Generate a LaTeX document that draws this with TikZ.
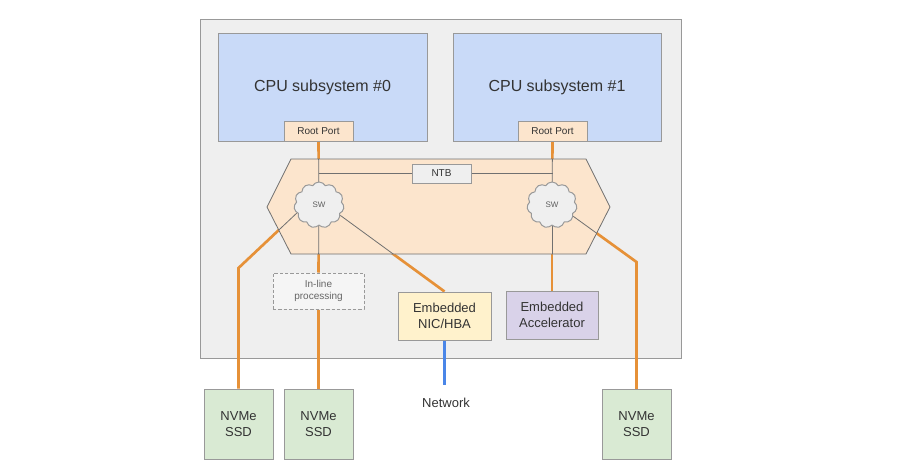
\documentclass[tikz,border=0pt]{standalone}
\usepackage{fontspec}
\setmainfont{Liberation Sans}
\usetikzlibrary{shapes.symbols}
\definecolor{bggray}{HTML}{EFEFEF}
\definecolor{bordergray}{HTML}{999999}
\definecolor{cpublue}{HTML}{C9DAF8}
\definecolor{peach}{HTML}{FCE5CD}
\definecolor{orangeline}{HTML}{E69138}
\definecolor{blueline}{HTML}{4A86E8}
\definecolor{nicyellow}{HTML}{FFF2CC}
\definecolor{accpurple}{HTML}{D9D2E9}
\definecolor{ssdgreen}{HTML}{D9EAD3}
\definecolor{txt}{HTML}{333333}
\pgfdeclarelayer{bg}
\pgfdeclarelayer{orangel}
\pgfdeclarelayer{hexl}
\pgfdeclarelayer{grayl}
\pgfsetlayers{bg,orangel,hexl,grayl,main}
\tikzset{
  boxstyle/.style={draw=bordergray, line width=0.75pt, inner sep=1pt, align=center, text=txt},
  cpubox/.style={boxstyle, fill=cpublue, font=\fontsize{12}{14}\selectfont},
  portbox/.style={boxstyle, fill=peach, font=\fontsize{7.5}{9}\selectfont, minimum width=51.75pt, minimum height=15pt},
  ssdbox/.style={boxstyle, fill=ssdgreen, font=\fontsize{9.75}{12}\selectfont, minimum width=51.75pt, minimum height=52.5pt},
  devbox/.style={boxstyle, font=\fontsize{9.75}{12}\selectfont, minimum height=36pt},
  swcloud/.style={cloud, cloud puffs=11, cloud puff arc=120, cloud ignores aspect, draw=bordergray, line width=0.75pt, fill=bggray, minimum width=37.5pt, minimum height=34.5pt, inner sep=0pt, text=txt!80, font=\fontsize{6}{7}\selectfont},
  oline/.style={draw=orangeline, line width=2pt},
  gline/.style={draw=txt!70, line width=0.6pt},
}
\begin{document}
\begin{tikzpicture}[x=0.75pt,y=-0.75pt]
\useasboundingbox (0,0) rectangle (902,468);
% outer box
\begin{pgfonlayer}{bg}
\draw[draw=bordergray, fill=bggray, line width=0.75pt] (200,19) rectangle (681,358);
\end{pgfonlayer}
% hexagon
\begin{pgfonlayer}{hexl}
\draw[draw=txt!70, fill=peach, line width=0.6pt] (267,207) -- (291,159) -- (586,159) -- (610,207) -- (586,254) -- (291,254) -- cycle;
\end{pgfonlayer}
% nodes
\node[cpubox, minimum width=156.75pt, minimum height=81pt] (cpu0) at (322.5,87) {CPU subsystem \#0};
\node[cpubox, minimum width=156pt, minimum height=81pt] (cpu1) at (557,87) {CPU subsystem \#1};
\node[portbox] (root0) at (318.5,131) {Root Port};
\node[portbox] (root1) at (552.5,131) {Root Port};
\node[boxstyle, fill=bggray, font=\fontsize{7.5}{9}\selectfont, minimum width=44.25pt, minimum height=14.25pt] (ntb) at (441.5,173.5) {NTB};
\node[swcloud] (sw0) at (319,205) {SW};
\node[swcloud] (sw1) at (552,205) {SW};
\node[boxstyle, dashed, dash pattern=on 2.5pt off 1.5pt, fill=bggray!60, text=txt!75, font=\fontsize{7.5}{9}\selectfont, minimum width=68.25pt, minimum height=27pt] (inline) at (318.5,291) {In-line\\processing};
\node[devbox, fill=nicyellow, minimum width=69.75pt] (nic) at (444.5,316) {Embedded\\NIC/HBA};
\node[devbox, fill=accpurple, minimum width=69pt] (acc) at (552,315) {Embedded\\Accelerator};
\node[ssdbox] (ssd0) at (238.5,424) {NVMe\\SSD};
\node[ssdbox] (ssd1) at (318.5,424) {NVMe\\SSD};
\node[ssdbox] (ssd2) at (636.5,424.5) {NVMe\\SSD};
\node[text=txt, font=\fontsize{9.75}{12}\selectfont] (net) at (446,403) {Network};
\coordinate (netend) at (444.5,385);
\coordinate (bend0) at (238.5,268);
\coordinate (bend1) at (636.5,262);
% orange connectors (hexagon covers their inner parts)
\begin{pgfonlayer}{orangel}
\draw[oline] (root0.south) -- (sw0.center);
\draw[oline] (root1.south) -- (sw1.center);
\draw[oline] (sw0.200) -- (bend0) -- (ssd0.north);
\draw[oline] (sw0.center) -- (inline.north);
\draw[oline] (inline.south) -- (ssd1.north);
\draw[oline] (sw0.-26) -- (nic.north);
\draw[oline] (sw1.center) -- (acc.north);
\draw[oline] (sw1.-28) -- (bend1) -- (ssd2.north);
\end{pgfonlayer}
% gray parts inside the hexagon
\begin{pgfonlayer}{grayl}
\begin{scope}
\clip (267,207) -- (291,159) -- (586,159) -- (610,207) -- (586,254) -- (291,254) -- cycle;
\draw[gline] (root0.south) -- (sw0.center);
\draw[gline] (root1.south) -- (sw1.center);
\draw[gline] (sw0.200) -- (bend0);
\draw[gline] (sw0.center) -- (inline.north);
\draw[gline] (sw0.-26) -- (nic.north);
\draw[gline] (sw1.center) -- (acc.north);
\draw[gline] (sw1.-28) -- (bend1);
\end{scope}
\draw[gline] (root0.south |- ntb.west) -- (ntb.west);
\draw[gline] (ntb.east) -- (root1.south |- ntb.east);
\end{pgfonlayer}
\begin{pgfonlayer}{orangel}
\draw[draw=blueline, line width=2pt] (nic.south) -- (netend);
\end{pgfonlayer}
\end{tikzpicture}
\end{document}
